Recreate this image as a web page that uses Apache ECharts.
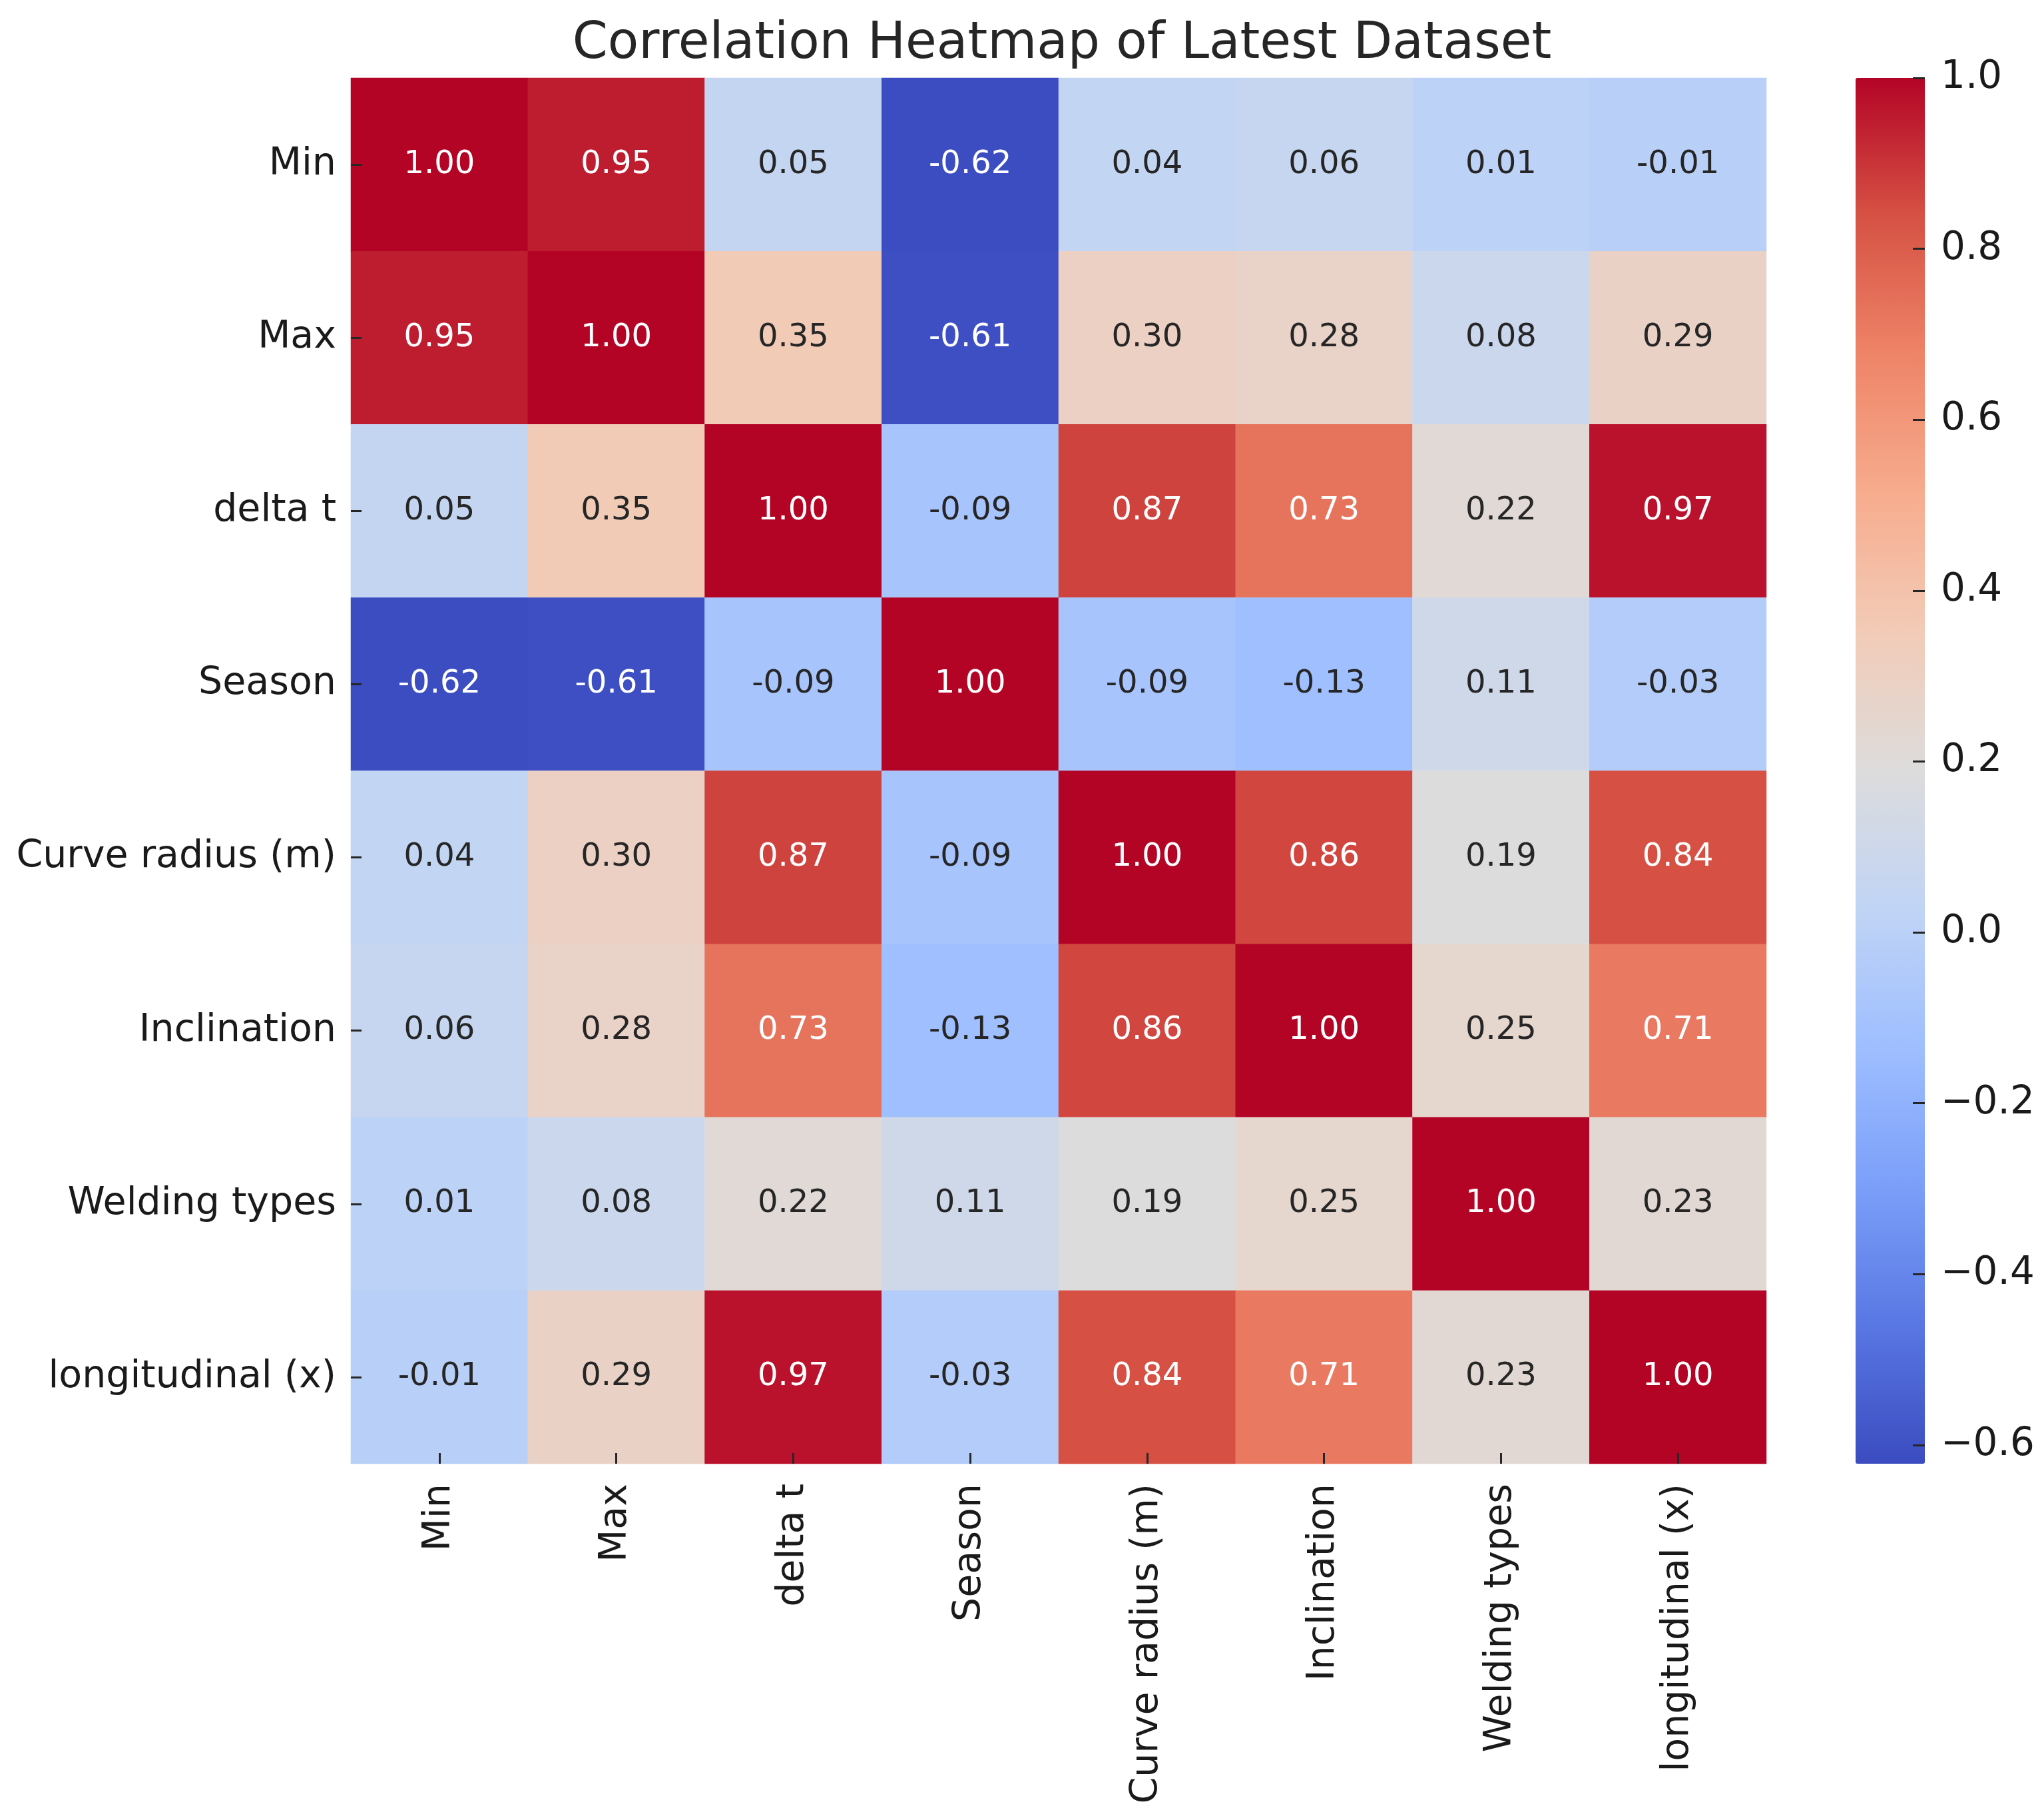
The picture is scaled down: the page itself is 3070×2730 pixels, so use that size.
<!DOCTYPE html>
<html>
<head>
<meta charset="utf-8">
<script src="https://cdn.jsdelivr.net/npm/echarts@6/dist/echarts.min.js"></script>
<style>html,body{margin:0;padding:0;background:#fff}#c{width:3070px;height:2730px}</style>
</head>
<body>
<div id="c"></div>
<script>
const categories = ['Min', 'Max', 'delta t', 'Season', 'Curve radius (m)', 'Inclination', 'Welding types', 'longitudinal (x)'];
const rowMin      = [1.00, 0.95, 0.05, -0.62, 0.04, 0.06, 0.01, -0.01];
const rowMax      = [0.95, 1.00, 0.35, -0.61, 0.30, 0.28, 0.08, 0.29];
const rowDeltaT   = [0.05, 0.35, 1.00, -0.09, 0.87, 0.73, 0.22, 0.97];
const rowSeason   = [-0.62, -0.61, -0.09, 1.00, -0.09, -0.13, 0.11, -0.03];
const rowCurve    = [0.04, 0.30, 0.87, -0.09, 1.00, 0.86, 0.19, 0.84];
const rowIncl     = [0.06, 0.28, 0.73, -0.13, 0.86, 1.00, 0.25, 0.71];
const rowWelding  = [0.01, 0.08, 0.22, 0.11, 0.19, 0.25, 1.00, 0.23];
const rowLong     = [-0.01, 0.29, 0.97, -0.03, 0.84, 0.71, 0.23, 1.00];
const colorbarTicks = [-0.6, -0.4, -0.2, 0.0, 0.2, 0.4, 0.6, 0.8, 1.0];
const colorMin = -0.622;
const colorMax = 1.0;
const titleText = 'Correlation Heatmap of Latest Dataset';

const coolwarm = ['#3b4cc0','#5977e3','#7b9ff9','#9ebeff','#c0d4f5','#dddcdc','#f2cbb7','#f7ac8e','#ee8468','#d65244','#b40426'];

const rows = [rowMin, rowMax, rowDeltaT, rowSeason, rowCurve, rowIncl, rowWelding, rowLong];
const data = [];
rows.forEach((row, yi) => {
  row.forEach((v, xi) => {
    const dark = v >= 0.7 || v <= -0.5;
    data.push({ value: [xi, yi, v], label: { color: dark ? '#ffffff' : '#262626' } });
  });
});

const FONT = 'DejaVu Sans';
const gridL = 527, gridT = 117, gridW = 2126, gridH = 2081;
const cbL = 2787, cbW = 104;

const chart = echarts.init(document.getElementById('c'), null, { renderer: 'canvas' });
chart.setOption({
  backgroundColor: '#ffffff',
  animation: false,
  title: {
    text: titleText,
    left: 1590,
    top: 24,
    textAlign: 'center',
    textStyle: { fontFamily: FONT, fontSize: 76, fontWeight: 'normal', color: '#262626' }
  },
  grid: [
    { left: gridL, top: gridT, width: gridW, height: gridH },
    { left: cbL, top: gridT, width: cbW, height: gridH }
  ],
  xAxis: [
    {
      type: 'category', data: categories, gridIndex: 0, position: 'bottom', z: 10,
      axisLine: { show: false },
      axisTick: { show: true, inside: true, alignWithLabel: true, length: 16, lineStyle: { color: '#262626', width: 3 } },
      axisLabel: { rotate: 90, margin: 30, fontFamily: FONT, fontSize: 57, color: '#1a1a1a', interval: 0 },
      splitLine: { show: false }
    },
    { type: 'value', gridIndex: 1, show: false, min: 0, max: 1, axisLine: { onZero: false } }
  ],
  yAxis: [
    {
      type: 'category', data: categories, gridIndex: 0, inverse: true, z: 10,
      axisLine: { show: false },
      axisTick: { show: true, inside: true, alignWithLabel: true, length: 16, lineStyle: { color: '#262626', width: 3 } },
      axisLabel: { margin: 22, fontFamily: FONT, fontSize: 57, color: '#1a1a1a', interval: 0 },
      splitLine: { show: false }
    },
    {
      type: 'value', gridIndex: 1, position: 'right', min: colorMin, max: colorMax, z: 10,
      axisLine: { show: false, onZero: false },
      splitLine: { show: false },
      axisTick: { show: true, inside: true, length: 18, customValues: colorbarTicks, lineStyle: { color: '#262626', width: 3 } },
      axisLabel: {
        show: true, customValues: colorbarTicks, margin: 24, fontFamily: FONT, fontSize: 58, color: '#1a1a1a',
        formatter: v => (Math.abs(v) < 1e-9 ? 0 : v).toFixed(1).replace('-', '\u2212')
      }
    }
  ],
  visualMap: {
    type: 'continuous',
    min: colorMin, max: colorMax,
    seriesIndex: 0,
    calculable: false,
    realtime: false,
    orient: 'vertical',
    left: cbL, top: gridT,
    padding: 0,
    itemWidth: cbW, itemHeight: gridH,
    text: null,
    showLabel: false,
    hoverLink: false,
    inRange: { color: coolwarm }
  },
  series: [
    {
      type: 'heatmap',
      xAxisIndex: 0, yAxisIndex: 0,
      data: data,
      itemStyle: { borderWidth: 0 },
      label: {
        show: true, fontFamily: FONT, fontSize: 48,
        formatter: p => p.value[2].toFixed(2)
      },
      emphasis: { disabled: true }
    }
  ]
});
</script>
</body>
</html>
